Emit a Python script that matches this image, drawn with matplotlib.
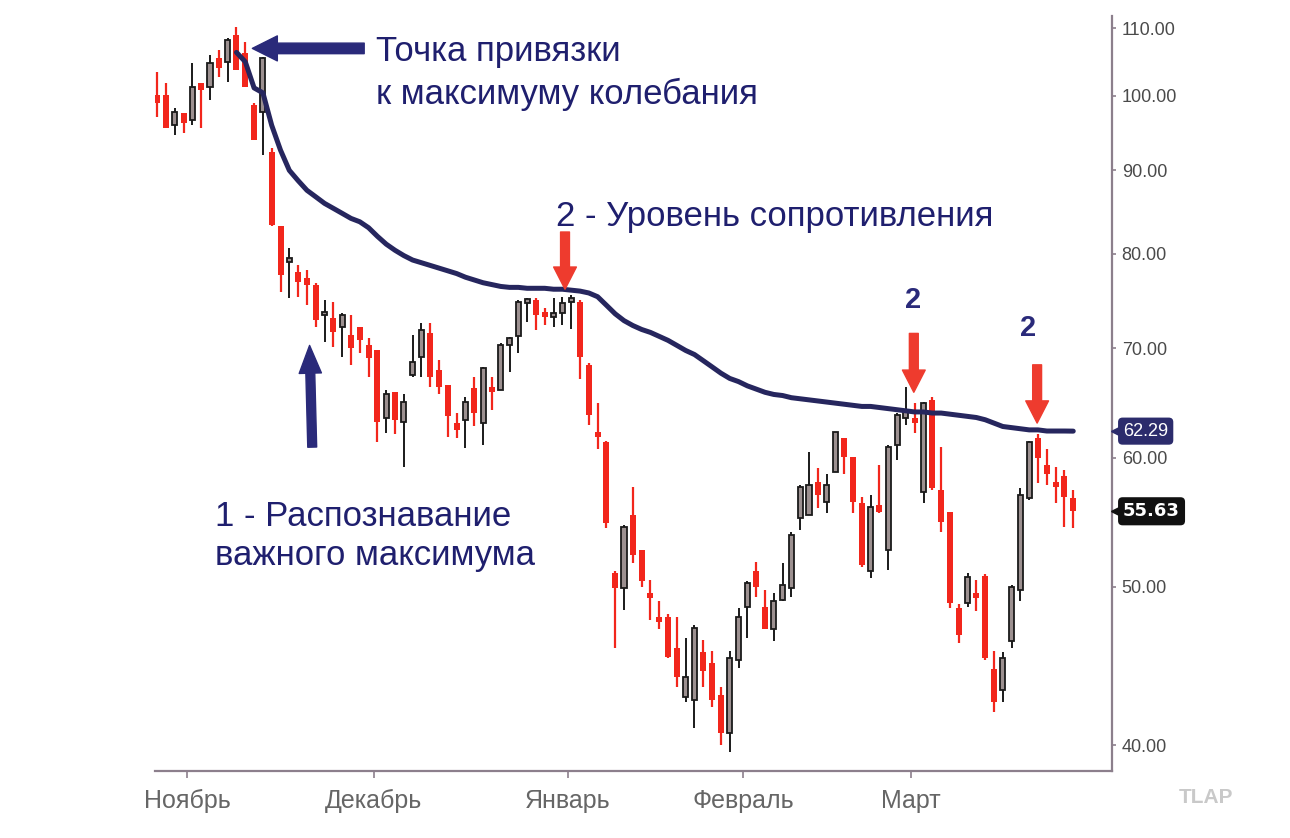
import matplotlib
matplotlib.use("Agg")
import matplotlib.pyplot as plt
import numpy as np
from matplotlib.ticker import NullLocator, NullFormatter

plt.rcParams['font.family'] = ['Liberation Sans', 'DejaVu Sans']

# daily candles, late October .. mid March
opens = [100.1, 100.1, 95.9, 97.6, 96.6, 101.8, 101.2, 105.4, 104.9, 108.9,
         106.2, 98.7, 97.7, 92.4, 83.2, 79.1, 78.0, 77.3, 76.6, 73.4,
         73.1, 72.2, 71.3, 72.2, 70.3, 69.8, 63.5, 65.8, 63.1, 67.4,
         69.2, 71.5, 67.9, 66.5, 63.0, 63.3, 66.2, 63.0, 66.3, 66.0,
         70.3, 71.2, 74.6, 75.0, 73.7, 73.2, 73.6, 74.7, 74.7, 68.4,
         62.2, 61.3, 51.0, 49.9, 55.3, 52.7, 49.6, 47.9, 47.9, 45.9,
         42.8, 42.6, 45.6, 44.9, 42.9, 40.7, 45.1, 48.6, 51.1, 48.6,
         47.1, 49.1, 49.9, 55.1, 55.3, 58.0, 56.4, 58.8, 61.7, 60.1,
         56.3, 51.1, 56.1, 52.7, 61.1, 63.5, 63.5, 57.2, 65.1, 57.3,
         55.6, 48.5, 48.9, 49.6, 50.8, 44.5, 43.2, 46.3, 49.8, 56.7,
         61.7, 59.4, 58.0, 58.5, 56.7]
highs = [103.4, 101.8, 98.3, 97.6, 104.7, 101.8, 105.9, 106.6, 108.5, 110.2,
         107.9, 99.0, 105.6, 92.9, 83.2, 80.7, 78.7, 78.2, 76.8, 75.0,
         74.7, 73.6, 73.4, 72.2, 71.0, 69.8, 66.0, 65.8, 65.6, 71.3,
         72.6, 72.6, 68.9, 66.5, 63.9, 65.4, 67.2, 68.2, 67.2, 70.5,
         71.1, 75.0, 75.2, 75.2, 74.1, 75.2, 75.3, 75.5, 75.0, 68.6,
         64.8, 61.4, 51.1, 54.6, 57.6, 52.7, 50.5, 49.0, 48.1, 47.9,
         46.5, 47.4, 46.4, 45.7, 43.4, 45.7, 48.5, 50.4, 51.8, 49.8,
         49.6, 51.7, 54.0, 57.7, 60.5, 59.1, 58.6, 62.2, 61.7, 60.1,
         56.8, 56.9, 59.4, 61.1, 63.9, 66.3, 64.8, 64.9, 65.4, 60.9,
         55.6, 48.8, 51.0, 50.5, 50.9, 45.7, 45.6, 50.1, 57.5, 61.4,
         62.0, 60.7, 59.2, 59.0, 57.3]
lows = [97.0, 95.5, 94.6, 94.9, 95.9, 95.5, 99.4, 102.7, 101.9, 103.7,
        101.2, 93.9, 92.0, 83.2, 75.8, 75.2, 75.3, 74.4, 72.2, 70.6,
        70.1, 69.2, 68.4, 69.6, 67.2, 61.3, 62.1, 62.0, 59.2, 67.2,
        67.2, 66.3, 65.6, 61.8, 61.7, 60.8, 62.7, 61.1, 64.2, 66.0,
        67.7, 69.6, 72.7, 71.8, 72.4, 72.2, 72.4, 71.9, 67.0, 62.8,
        60.7, 54.3, 45.9, 48.4, 51.7, 50.0, 47.7, 47.1, 45.2, 43.4,
        42.5, 41.0, 43.4, 42.2, 40.0, 39.6, 44.6, 46.5, 49.3, 47.1,
        46.3, 49.0, 49.3, 54.2, 55.3, 55.9, 55.5, 58.8, 58.6, 55.5,
        51.4, 50.6, 55.5, 51.2, 59.8, 62.8, 62.1, 56.3, 57.3, 54.0,
        48.5, 46.2, 48.6, 48.3, 45.1, 41.9, 42.5, 45.9, 49.0, 56.5,
        57.9, 57.7, 56.3, 54.4, 54.3]
closes = [99.0, 95.5, 97.7, 96.2, 101.2, 100.8, 104.7, 104.0, 108.2, 103.7,
          101.2, 93.9, 105.4, 83.3, 77.6, 79.5, 76.9, 76.6, 72.9, 73.7,
          71.6, 73.4, 70.0, 70.8, 69.1, 63.1, 65.6, 63.3, 64.9, 68.7,
          71.8, 67.2, 66.3, 63.6, 62.4, 64.9, 63.9, 68.1, 65.8, 70.3,
          71.0, 74.7, 75.1, 73.4, 73.2, 73.6, 74.6, 75.2, 69.2, 63.7,
          61.8, 54.7, 49.9, 54.4, 52.3, 50.4, 49.2, 47.6, 45.3, 44.0,
          44.0, 47.2, 44.4, 42.6, 40.7, 45.2, 47.9, 50.3, 50.0, 47.1,
          49.0, 50.1, 53.8, 57.6, 57.7, 56.9, 57.7, 62.2, 60.1, 56.4,
          51.6, 56.0, 55.6, 60.9, 63.7, 64.0, 63.0, 64.8, 57.5, 54.8,
          48.9, 46.7, 50.7, 49.2, 45.2, 42.5, 45.2, 50.0, 56.9, 61.3,
          60.0, 58.6, 57.6, 56.8, 55.63]

# anchored line, starts at the swing high candle
vwap_start = 9
vwap = [106.3, 104.9, 101.1, 100.4, 95.9, 92.6, 90.0, 88.7, 87.5, 86.7,
        85.9, 85.3, 84.7, 84.1, 83.7, 83.0, 82.0, 81.1, 80.4, 79.8,
        79.3, 79.0, 78.7, 78.4, 78.1, 77.8, 77.4, 77.1, 76.8, 76.6,
        76.4, 76.3, 76.3, 76.2, 76.2, 76.2, 76.1, 76.1, 76.0, 75.9,
        75.7, 75.3, 74.4, 73.5, 72.8, 72.3, 71.9, 71.6, 71.2, 70.8,
        70.3, 69.8, 69.4, 68.8, 68.2, 67.6, 67.1, 66.8, 66.4, 66.1,
        65.8, 65.6, 65.5, 65.3, 65.2, 65.1, 65.0, 64.9, 64.8, 64.7,
        64.6, 64.5, 64.5, 64.4, 64.3, 64.2, 64.1, 64.0, 64.0, 63.9,
        63.9, 63.8, 63.7, 63.6, 63.5, 63.3, 63.0, 62.7, 62.6, 62.5,
        62.4, 62.4, 62.3, 62.3, 62.3, 62.29]

month_pos = [3.4, 24.6, 46.65, 66.5, 85.6]
month_names = ['Ноябрь', 'Декабрь', 'Январь', 'Февраль', 'Март']
price_ticks = [40, 50, 60, 70, 80, 90, 100, 110]

RED = '#f2261c'
ARROW_RED = '#ee3b2e'
UP_FILL = '#9c9090'
UP_EDGE = '#1a1a1a'
NAVY = '#1f1f6e'
LINE = '#26265e'
SPINE = '#8c7f8c'

fig = plt.figure(figsize=(12.9, 8.38), dpi=100)
W, H = 1290, 838
ax = fig.add_axes([155 / W, 1 - 771 / H, (1112 - 155) / W, (771 - 16) / H])
ax.set_yscale('log')


def fpos(x, y):
    return x / W, 1 - y / H


o = np.array(opens)
h = np.array(highs)
l = np.array(lows)
c = np.array(closes)
x = np.arange(len(o))
up = c >= o
bot = np.minimum(o, c)
hgt = np.abs(c - o)

ax.vlines(x[~up], l[~up], h[~up], color=RED, lw=1.6, zorder=2)
ax.vlines(x[up], l[up], h[up], color=UP_EDGE, lw=1.4, zorder=2)
ax.bar(x[~up], hgt[~up], bottom=bot[~up], width=0.68, color=RED, zorder=3)
ax.bar(x[up], hgt[up], bottom=bot[up], width=0.58, color=UP_FILL,
       edgecolor=UP_EDGE, linewidth=1.3, zorder=3)

xv = np.arange(vwap_start, vwap_start + len(vwap))
ax.plot(xv, vwap, color=LINE, lw=3.6, solid_capstyle='round',
        solid_joinstyle='round', zorder=4)

ax.set_xlim(-0.25, 108.4)
ax.set_ylim(38.56, 111.9)

ax.yaxis.tick_right()
ax.set_yticks(price_ticks)
ax.set_yticklabels([f'{v:.2f}' for v in price_ticks])
ax.yaxis.set_minor_locator(NullLocator())
ax.yaxis.set_minor_formatter(NullFormatter())
ax.set_xticks(month_pos)
ax.set_xticklabels(month_names)
ax.tick_params(axis='y', direction='out', length=3, width=1.2, color=SPINE,
               labelsize=13, labelcolor='#4a4a4a', pad=4)
ax.tick_params(axis='x', direction='out', length=5, width=1.2, color=SPINE,
               labelsize=18, labelcolor='#666666', pad=8)
for s in ['top', 'left']:
    ax.spines[s].set_visible(False)
for s in ['right', 'bottom']:
    ax.spines[s].set_color(SPINE)
    ax.spines[s].set_linewidth(1.6)

# arrows
navy_arrow = 'simple,head_length=0.9,head_width=0.9,tail_width=0.38'
ax.annotate('', xy=(10.8, 106.9), xytext=(23.5, 106.9),
            arrowprops=dict(arrowstyle=navy_arrow, mutation_scale=20,
                            color='#2a2a7a', shrinkA=0, shrinkB=0), zorder=6)
ax.annotate('', xy=(17.3, 70.3), xytext=(17.6, 60.9),
            arrowprops=dict(arrowstyle='simple,head_length=1.0,head_width=0.8,tail_width=0.32',
                            mutation_scale=20, color='#2a2a7a',
                            shrinkA=0, shrinkB=0), zorder=6)
red_arrow = 'simple,head_length=0.8,head_width=0.82,tail_width=0.32'
for xa, y0, y1 in [(46.3, 82.5, 76.1), (85.9, 71.5, 65.8), (99.9, 68.4, 63.0)]:
    ax.annotate('', xy=(xa, y1), xytext=(xa, y0),
                arrowprops=dict(arrowstyle=red_arrow, mutation_scale=20,
                                color=ARROW_RED, shrinkA=0, shrinkB=0), zorder=6)

ax.text(85.8, 74.95, '2', ha='center', va='center', fontsize=21,
        fontweight='bold', color='#2a2a7a', zorder=6)
ax.text(98.9, 72.0, '2', ha='center', va='center', fontsize=21,
        fontweight='bold', color='#2a2a7a', zorder=6)

# text blocks
txt = dict(fontsize=25, color=NAVY, va='baseline', ha='left')
fig.text(*fpos(376, 61), 'Точка привязки', **txt)
fig.text(*fpos(376, 104), 'к максимуму колебания', **txt)
fig.text(*fpos(556, 226), '2 - Уровень сопротивления', **txt)
fig.text(*fpos(215, 526), '1 - Распознавание', **txt)
fig.text(*fpos(215, 565), 'важного максимума', **txt)

# last value tags on the price axis
trans = ax.get_yaxis_transform()
tag_x = 1 + 6 / 957
for val, fc, kw in [(vwap[-1], '#2c2c6c', dict(fontsize=13)),
                    (closes[-1], '#111111', dict(fontsize=13, fontweight='bold',
                                                 family='DejaVu Sans'))]:
    ax.plot([tag_x], [val], marker='<', ms=10, color=fc, transform=trans,
            clip_on=False, zorder=7)
    ax.annotate(f'{val:.2f}', xy=(1, val), xycoords=trans, xytext=(8, 0),
                textcoords='offset points', ha='left', va='center',
                color='white', annotation_clip=False, zorder=8,
                bbox=dict(boxstyle='round,pad=0.28,rounding_size=0.25',
                          fc=fc, ec='none'), **kw)

fig.text(*fpos(1206, 797), 'TLAP', ha='center', va='center', fontsize=15,
         fontweight='bold', color='#c9c9c9')

fig.savefig('out.png', dpi=100)
